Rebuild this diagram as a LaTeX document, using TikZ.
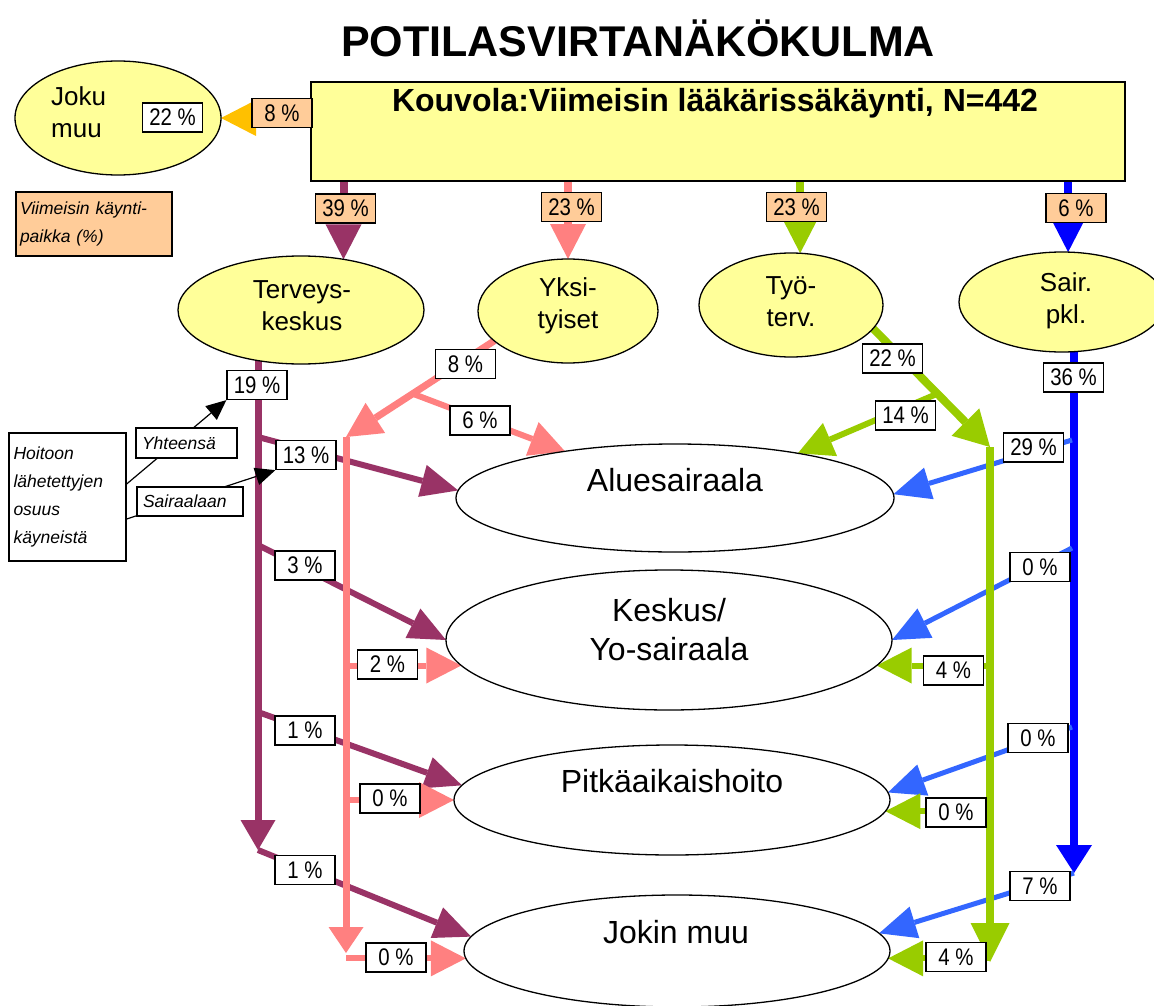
\documentclass[tikz,border=0pt]{standalone}
\usepackage{fontspec}
\setmainfont{Liberation Sans}
\newfontfamily\pctfont[FakeStretch=0.85]{Liberation Sans}
\usetikzlibrary{shapes.geometric,arrows.meta,calc}
\pgfdeclarelayer{bg}
\pgfsetlayers{bg,main}
\definecolor{ylw}{HTML}{FFFF99}
\definecolor{org}{HTML}{FFCC99}
\definecolor{purp}{HTML}{993366}
\definecolor{pink}{HTML}{FF8080}
\definecolor{grn}{HTML}{99CC00}
\definecolor{blu}{HTML}{0000FF}
\definecolor{lblu}{HTML}{3366FF}
\definecolor{gold}{HTML}{FFC000}
\begin{document}
\begin{tikzpicture}[x=1pt,y=-1pt,
  ell/.style={ellipse,draw=black,line width=1.3pt,inner sep=0pt,outer sep=0pt},
  yell/.style={ell,fill=ylw},
  wht/.style={ell,fill=white},
  pct/.style={draw=black,line width=1.3pt,fill=white,minimum width=60pt,minimum height=29pt,inner sep=0pt,font=\pctfont\fontsize{24}{24}\selectfont},
  opct/.style={pct,fill=org},
  etxt/.style={align=center,inner sep=0pt,font=\fontsize{26}{32}\selectfont},
  btxt/.style={align=center,inner sep=0pt,font=\fontsize{32}{39}\selectfont},
  itbox/.style={draw=black,line width=1.3pt,align=left,font=\itshape\fontsize{17.5}{28}\selectfont},
  flow/.style={line width=#1},
  tipA/.style={-{Triangle[length=35pt,width=36pt,line width=0pt]}},
  tipB/.style={-{Triangle[length=37pt,width=33pt,line width=0pt]}},
  tipK/.style={-{Triangle[length=20pt,width=18pt,line width=0pt]}}
]
\useasboundingbox (0,0) rectangle (1154,1006);

% title and header
\node[font=\bfseries\fontsize{43}{43}\selectfont] (title) at (638,38) {POTILASVIRTANÄKÖKULMA};
\node[draw=black,line width=1.5pt,fill=ylw,minimum width=814pt,minimum height=99pt,inner sep=0pt] (head) at (718,131.5) {};
\node[font=\bfseries\fontsize{32}{32}\selectfont] (headtxt) at (715,103) {Kouvola:Viimeisin lääkärissäkäynti, N=442};

% yellow ellipses
\node[yell,minimum width=206pt,minimum height=114pt] (joku) at (118,118) {};
\node[yell,minimum width=246pt,minimum height=108pt] (terv) at (301,310) {};
\node[yell,minimum width=180pt,minimum height=104pt] (yks) at (568,311) {};
\node[yell,minimum width=184pt,minimum height=104pt] (tyo) at (791,305) {};
\node[yell,minimum width=206pt,minimum height=100pt] (sair) at (1062,302) {};
\node[etxt,align=left,anchor=west] (jokut) at (51,112) {Joku\\muu};
\node[etxt] (tervt) at (302,306) {Terveys-\\keskus};
\node[etxt] (ykst) at (568,306) {Yksi-\\tyiset};
\node[etxt] (tyot) at (791,302) {Työ-\\terv.};
\node[etxt] (sairt) at (1066,301) {Sair.\\pkl.};

% white ellipses
\node[wht,minimum width=438pt,minimum height=108pt] (alue) at (675,498) {};
\node[wht,minimum width=446pt,minimum height=140pt] (kes) at (669,640) {};
\node[wht,minimum width=436pt,minimum height=110pt] (pit) at (672,800) {};
\node[wht,minimum width=426pt,minimum height=112pt] (jok) at (677,951) {};
\node[btxt] (aluet) at (675,480) {Aluesairaala};
\node[btxt] (kest) at (669,630) {Keskus/\\Yo-sairaala};
\node[btxt] (pitt) at (672,781) {Pitkäaikaishoito};
\node[btxt] (jokt) at (676,932) {Jokin muu};

% legends
\node[itbox,fill=org,minimum width=156pt,minimum height=64pt,text width=148pt,inner sep=4pt] (leg) at (94,224) {Viimeisin käynti-\\paikka (\%)};
\node[itbox,fill=white,minimum width=117pt,minimum height=128pt,text width=108pt,inner sep=4.5pt] (hoit) at (67.5,497) {Hoitoon\\lähetettyjen\\osuus\\käyneistä};
\node[itbox,fill=white,minimum height=30pt,text width=89pt,inner sep=6pt] (yht) at (186.5,443) {Yhteensä};
\node[itbox,fill=white,minimum height=29pt,text width=94pt,inner sep=6pt] (sai) at (190,501.5) {Sairaalaan};

% percentage boxes
\node[pct] (p22j) at (172.5,117.5) {22 \%};
\node[opct] (p8h) at (282,113) {8 \%};
\node[opct] (p39) at (345.5,208.5) {39 \%};
\node[opct] (p23y) at (571.5,207) {23 \%};
\node[opct] (p23t) at (796.5,207) {23 \%};
\node[opct] (p6s) at (1076,208) {6 \%};
\node[pct] (p19) at (257,385) {19 \%};
\node[pct] (p13) at (306,455) {13 \%};
\node[pct] (p3) at (305,565.5) {3 \%};
\node[pct] (p1a) at (305,730.5) {1 \%};
\node[pct] (p1b) at (305,870) {1 \%};
\node[pct] (p8y) at (465.5,364) {8 \%};
\node[pct] (p6y) at (480,420.5) {6 \%};
\node[pct] (p2y) at (387.5,664.5) {2 \%};
\node[pct] (p0ya) at (390,798.5) {0 \%};
\node[pct] (p0yb) at (396,957.5) {0 \%};
\node[pct] (p22t) at (892.5,358.5) {22 \%};
\node[pct] (p14t) at (905.5,415.5) {14 \%};
\node[pct] (p4ta) at (953.5,670.5) {4 \%};
\node[pct] (p0t) at (956,812.5) {0 \%};
\node[pct] (p4tb) at (956,957) {4 \%};
\node[pct] (p36) at (1073.5,377.5) {36 \%};
\node[pct] (p29) at (1033.5,447.5) {29 \%};
\node[pct] (p0sa) at (1040,567) {0 \%};
\node[pct] (p0sb) at (1038,738) {0 \%};
\node[pct] (p7) at (1040,886) {7 \%};

% trunk coordinates
\coordinate (ptop) at (258,355);
\coordinate (pb1) at (258,437);
\coordinate (pb2) at (258,545);
\coordinate (pb3) at (258,712);
\coordinate (pbot) at (258,850);
\coordinate (ktop) at (346,437);
\coordinate (kbot) at (346,953);
\coordinate (gtop) at (990,447);
\coordinate (gbot) at (990,962);
\coordinate (btop) at (1074,345);
\coordinate (bb1) at (1072,440);
\coordinate (bb2) at (1072,548);
\coordinate (bb3) at (1072,727);
\coordinate (bbot) at (1074,873);

\begin{pgfonlayer}{bg}
% header flows
\draw[flow=8pt,gold,tipA] (head.west |- joku.east) -- (joku.east);
\draw[flow=8pt,purp,tipA] (terv.50 |- head.south) -- (terv.50);
\draw[flow=8pt,pink,tipA] (yks.north |- head.south) -- (yks.north);
\draw[flow=8pt,grn,tipA] (tyo.80 |- head.south) -- (tyo.80);
\draw[flow=8pt,blu,tipA] (sair.83 |- head.south) -- (sair.83);
% Terveyskeskus
\draw[flow=7pt,purp,-{Triangle[length=30pt,width=35pt,line width=0pt]}] (ptop) -- (pbot);
\draw[flow=6pt,purp,tipB] (pb1) -- (alue.178);
\draw[flow=6pt,purp,tipB] (pb2) -- (kes.180);
\draw[flow=6pt,purp,tipB] (pb3) -- (pit.176);
\draw[flow=6pt,purp,tipB] (pbot) -- (jok.176);
% Yksityiset
\draw[flow=7pt,pink,tipA] (yks.202) -- (ktop);
\draw[flow=6pt,pink,tipA] ($(yks.202)!0.55!(ktop)$) -- (alue.157);
\draw[flow=7pt,pink,-{Triangle[length=26pt,width=35pt,line width=0pt]}] (ktop) -- (kbot);
\draw[flow=6pt,pink,tipA] (kes.187 -| ktop) -- (kes.187);
\draw[flow=6pt,pink,tipA] (pit.180 -| ktop) -- (pit.180);
\draw[flow=6pt,pink,tipA] (jok.182 -| ktop) -- (jok.182);
% Sair. pkl.
\draw[flow=8pt,blu,-{Triangle[length=28pt,width=36pt,line width=0pt]}] (btop) -- (bbot);
\draw[flow=5pt,lblu,tipB] (bb1) -- (alue.1);
\draw[flow=5pt,lblu,tipB] (bb2) -- (kes.0);
\draw[flow=5pt,lblu,tipB] (bb3) -- (pit.2);
\draw[flow=5pt,lblu,tipB] (bbot) -- (jok.5);
% Tyoterv
\draw[flow=8pt,grn,-{Triangle[length=35pt,width=39pt,line width=0pt]}] (tyo.344) -- (gtop);
\draw[flow=6pt,grn,tipA] ($(tyo.344)!0.55!(gtop)$) -- (alue.20);
\draw[flow=8pt,grn,-{Triangle[length=39pt,width=39pt,line width=0pt]}] (gtop) -- (gbot);
\draw[flow=6pt,grn,tipA] (kes.353 -| gtop) -- (kes.353);
\draw[flow=6pt,grn,tipA] (pit.357 -| gtop) -- (pit.357);
\draw[flow=6pt,grn,tipA] (jok.358 -| gtop) -- (jok.358);
% legend pointers
\draw[line width=1.2pt,black,tipK] ([yshift=13pt]hoit.east) -- (p19.south west);
\draw[line width=1.2pt,black,tipK] ([yshift=-22pt]hoit.east) -- (p13.south west);
\end{pgfonlayer}
\end{tikzpicture}
\end{document}
